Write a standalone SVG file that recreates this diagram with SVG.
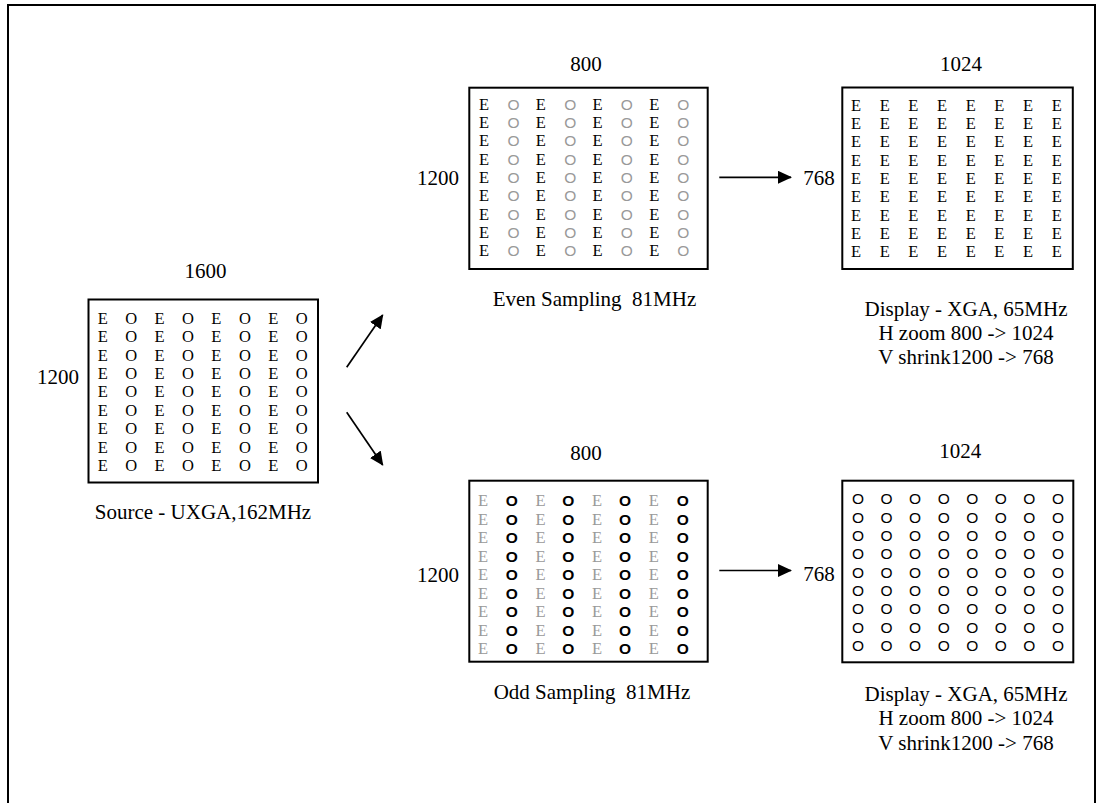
<svg xmlns="http://www.w3.org/2000/svg" width="1105" height="803" viewBox="0 0 1105 803">
<style>
.lbl{font-family:"Liberation Serif","Times New Roman",serif;font-size:21px;fill:#000;text-anchor:middle}
.box{fill:none;stroke:#000;stroke-width:2}
.row{text-anchor:middle}
.E{font-family:"Liberation Serif",serif;font-size:16.5px;fill:#000}
.Eg{font-family:"Liberation Serif",serif;font-size:16.5px;fill:#999}
.Os{font-family:"Liberation Serif",serif;font-size:16.5px;fill:#000}
.Og{font-family:"Liberation Sans",sans-serif;font-size:15.5px;fill:#999}
.Ob{font-family:"Liberation Sans",sans-serif;font-size:15.5px;font-weight:bold;fill:#000}
.On{font-family:"Liberation Sans",sans-serif;font-size:15.5px;fill:#000}
.conn{stroke:#000;stroke-width:1.7;fill:none;marker-end:url(#ah)}
</style>
<defs>
<marker id="ah" viewBox="0 0 14 13" refX="13" refY="6.5" markerWidth="14" markerHeight="13" markerUnits="userSpaceOnUse" orient="auto">
<path d="M0,0 L14,6.5 L0,13 z" fill="#000"/>
</marker>
</defs>
<rect x="8" y="5" width="1087" height="830" fill="none" stroke="#000" stroke-width="2"/>

<g id="source">
<text class="lbl" x="205.5" y="278">1600</text>
<text class="lbl" x="58" y="384">1200</text>
<rect class="box" x="88.5" y="299.5" width="229.5" height="183"/>
<text class="row" y="323.7"><tspan class="E" x="102.7">E</tspan><tspan class="Os" x="131.1">O</tspan><tspan class="E" x="159.6">E</tspan><tspan class="Os" x="188">O</tspan><tspan class="E" x="216.4">E</tspan><tspan class="Os" x="244.9">O</tspan><tspan class="E" x="273.3">E</tspan><tspan class="Os" x="301.7">O</tspan></text>
<text class="row" y="342.1"><tspan class="E" x="102.7">E</tspan><tspan class="Os" x="131.1">O</tspan><tspan class="E" x="159.6">E</tspan><tspan class="Os" x="188">O</tspan><tspan class="E" x="216.4">E</tspan><tspan class="Os" x="244.9">O</tspan><tspan class="E" x="273.3">E</tspan><tspan class="Os" x="301.7">O</tspan></text>
<text class="row" y="360.5"><tspan class="E" x="102.7">E</tspan><tspan class="Os" x="131.1">O</tspan><tspan class="E" x="159.6">E</tspan><tspan class="Os" x="188">O</tspan><tspan class="E" x="216.4">E</tspan><tspan class="Os" x="244.9">O</tspan><tspan class="E" x="273.3">E</tspan><tspan class="Os" x="301.7">O</tspan></text>
<text class="row" y="378.9"><tspan class="E" x="102.7">E</tspan><tspan class="Os" x="131.1">O</tspan><tspan class="E" x="159.6">E</tspan><tspan class="Os" x="188">O</tspan><tspan class="E" x="216.4">E</tspan><tspan class="Os" x="244.9">O</tspan><tspan class="E" x="273.3">E</tspan><tspan class="Os" x="301.7">O</tspan></text>
<text class="row" y="397.3"><tspan class="E" x="102.7">E</tspan><tspan class="Os" x="131.1">O</tspan><tspan class="E" x="159.6">E</tspan><tspan class="Os" x="188">O</tspan><tspan class="E" x="216.4">E</tspan><tspan class="Os" x="244.9">O</tspan><tspan class="E" x="273.3">E</tspan><tspan class="Os" x="301.7">O</tspan></text>
<text class="row" y="415.7"><tspan class="E" x="102.7">E</tspan><tspan class="Os" x="131.1">O</tspan><tspan class="E" x="159.6">E</tspan><tspan class="Os" x="188">O</tspan><tspan class="E" x="216.4">E</tspan><tspan class="Os" x="244.9">O</tspan><tspan class="E" x="273.3">E</tspan><tspan class="Os" x="301.7">O</tspan></text>
<text class="row" y="434.1"><tspan class="E" x="102.7">E</tspan><tspan class="Os" x="131.1">O</tspan><tspan class="E" x="159.6">E</tspan><tspan class="Os" x="188">O</tspan><tspan class="E" x="216.4">E</tspan><tspan class="Os" x="244.9">O</tspan><tspan class="E" x="273.3">E</tspan><tspan class="Os" x="301.7">O</tspan></text>
<text class="row" y="452.5"><tspan class="E" x="102.7">E</tspan><tspan class="Os" x="131.1">O</tspan><tspan class="E" x="159.6">E</tspan><tspan class="Os" x="188">O</tspan><tspan class="E" x="216.4">E</tspan><tspan class="Os" x="244.9">O</tspan><tspan class="E" x="273.3">E</tspan><tspan class="Os" x="301.7">O</tspan></text>
<text class="row" y="470.9"><tspan class="E" x="102.7">E</tspan><tspan class="Os" x="131.1">O</tspan><tspan class="E" x="159.6">E</tspan><tspan class="Os" x="188">O</tspan><tspan class="E" x="216.4">E</tspan><tspan class="Os" x="244.9">O</tspan><tspan class="E" x="273.3">E</tspan><tspan class="Os" x="301.7">O</tspan></text>
<text class="lbl" x="203" y="519">Source - UXGA,162MHz</text>
</g>

<g id="even">
<text class="lbl" x="586" y="70.7">800</text>
<text class="lbl" x="438" y="185">1200</text>
<rect class="box" x="469.3" y="87.7" width="238.4" height="181.3"/>
<text class="row" y="109.5"><tspan class="E" x="484">E</tspan><tspan class="Og" x="513.6">O</tspan><tspan class="E" x="540.8">E</tspan><tspan class="Og" x="570.2">O</tspan><tspan class="E" x="597.6">E</tspan><tspan class="Og" x="626.8">O</tspan><tspan class="E" x="654.4">E</tspan><tspan class="Og" x="683.4">O</tspan></text>
<text class="row" y="127.8"><tspan class="E" x="484">E</tspan><tspan class="Og" x="513.6">O</tspan><tspan class="E" x="540.8">E</tspan><tspan class="Og" x="570.2">O</tspan><tspan class="E" x="597.6">E</tspan><tspan class="Og" x="626.8">O</tspan><tspan class="E" x="654.4">E</tspan><tspan class="Og" x="683.4">O</tspan></text>
<text class="row" y="146.2"><tspan class="E" x="484">E</tspan><tspan class="Og" x="513.6">O</tspan><tspan class="E" x="540.8">E</tspan><tspan class="Og" x="570.2">O</tspan><tspan class="E" x="597.6">E</tspan><tspan class="Og" x="626.8">O</tspan><tspan class="E" x="654.4">E</tspan><tspan class="Og" x="683.4">O</tspan></text>
<text class="row" y="164.5"><tspan class="E" x="484">E</tspan><tspan class="Og" x="513.6">O</tspan><tspan class="E" x="540.8">E</tspan><tspan class="Og" x="570.2">O</tspan><tspan class="E" x="597.6">E</tspan><tspan class="Og" x="626.8">O</tspan><tspan class="E" x="654.4">E</tspan><tspan class="Og" x="683.4">O</tspan></text>
<text class="row" y="182.8"><tspan class="E" x="484">E</tspan><tspan class="Og" x="513.6">O</tspan><tspan class="E" x="540.8">E</tspan><tspan class="Og" x="570.2">O</tspan><tspan class="E" x="597.6">E</tspan><tspan class="Og" x="626.8">O</tspan><tspan class="E" x="654.4">E</tspan><tspan class="Og" x="683.4">O</tspan></text>
<text class="row" y="201.2"><tspan class="E" x="484">E</tspan><tspan class="Og" x="513.6">O</tspan><tspan class="E" x="540.8">E</tspan><tspan class="Og" x="570.2">O</tspan><tspan class="E" x="597.6">E</tspan><tspan class="Og" x="626.8">O</tspan><tspan class="E" x="654.4">E</tspan><tspan class="Og" x="683.4">O</tspan></text>
<text class="row" y="219.5"><tspan class="E" x="484">E</tspan><tspan class="Og" x="513.6">O</tspan><tspan class="E" x="540.8">E</tspan><tspan class="Og" x="570.2">O</tspan><tspan class="E" x="597.6">E</tspan><tspan class="Og" x="626.8">O</tspan><tspan class="E" x="654.4">E</tspan><tspan class="Og" x="683.4">O</tspan></text>
<text class="row" y="237.8"><tspan class="E" x="484">E</tspan><tspan class="Og" x="513.6">O</tspan><tspan class="E" x="540.8">E</tspan><tspan class="Og" x="570.2">O</tspan><tspan class="E" x="597.6">E</tspan><tspan class="Og" x="626.8">O</tspan><tspan class="E" x="654.4">E</tspan><tspan class="Og" x="683.4">O</tspan></text>
<text class="row" y="256.2"><tspan class="E" x="484">E</tspan><tspan class="Og" x="513.6">O</tspan><tspan class="E" x="540.8">E</tspan><tspan class="Og" x="570.2">O</tspan><tspan class="E" x="597.6">E</tspan><tspan class="Og" x="626.8">O</tspan><tspan class="E" x="654.4">E</tspan><tspan class="Og" x="683.4">O</tspan></text>
<text class="lbl" x="594.5" y="306" xml:space="preserve">Even Sampling  81MHz</text>
</g>

<g id="display-even">
<text class="lbl" x="961" y="70.7">1024</text>
<text class="lbl" x="819" y="185">768</text>
<rect class="box" x="842.3" y="87.5" width="230.5" height="181.5"/>
<text class="row E" x="856 884.7 913.3 942 970.7 999.3 1028 1056.7" y="110.5">EEEEEEEE</text>
<text class="row E" x="856 884.7 913.3 942 970.7 999.3 1028 1056.7" y="128.8">EEEEEEEE</text>
<text class="row E" x="856 884.7 913.3 942 970.7 999.3 1028 1056.7" y="147.2">EEEEEEEE</text>
<text class="row E" x="856 884.7 913.3 942 970.7 999.3 1028 1056.7" y="165.5">EEEEEEEE</text>
<text class="row E" x="856 884.7 913.3 942 970.7 999.3 1028 1056.7" y="183.8">EEEEEEEE</text>
<text class="row E" x="856 884.7 913.3 942 970.7 999.3 1028 1056.7" y="202.2">EEEEEEEE</text>
<text class="row E" x="856 884.7 913.3 942 970.7 999.3 1028 1056.7" y="220.5">EEEEEEEE</text>
<text class="row E" x="856 884.7 913.3 942 970.7 999.3 1028 1056.7" y="238.8">EEEEEEEE</text>
<text class="row E" x="856 884.7 913.3 942 970.7 999.3 1028 1056.7" y="257.2">EEEEEEEE</text>
<text class="lbl" x="966" y="315.5">Display - XGA, 65MHz</text>
<text class="lbl" x="966" y="339.5">H zoom 800 -&gt; 1024</text>
<text class="lbl" x="966" y="363.5">V shrink1200 -&gt; 768</text>
</g>

<g id="odd">
<text class="lbl" x="586" y="460">800</text>
<text class="lbl" x="438" y="582">1200</text>
<rect class="box" x="469.3" y="480.7" width="238.4" height="181"/>
<text class="row" y="506"><tspan class="Eg" x="483">E</tspan><tspan class="Ob" x="511.7">O</tspan><tspan class="Eg" x="540.5">E</tspan><tspan class="Ob" x="568.3">O</tspan><tspan class="Eg" x="597">E</tspan><tspan class="Ob" x="625">O</tspan><tspan class="Eg" x="653.8">E</tspan><tspan class="Ob" x="682.7">O</tspan></text>
<text class="row" y="524.5"><tspan class="Eg" x="483">E</tspan><tspan class="Ob" x="511.7">O</tspan><tspan class="Eg" x="540.5">E</tspan><tspan class="Ob" x="568.3">O</tspan><tspan class="Eg" x="597">E</tspan><tspan class="Ob" x="625">O</tspan><tspan class="Eg" x="653.8">E</tspan><tspan class="Ob" x="682.7">O</tspan></text>
<text class="row" y="543.1"><tspan class="Eg" x="483">E</tspan><tspan class="Ob" x="511.7">O</tspan><tspan class="Eg" x="540.5">E</tspan><tspan class="Ob" x="568.3">O</tspan><tspan class="Eg" x="597">E</tspan><tspan class="Ob" x="625">O</tspan><tspan class="Eg" x="653.8">E</tspan><tspan class="Ob" x="682.7">O</tspan></text>
<text class="row" y="561.6"><tspan class="Eg" x="483">E</tspan><tspan class="Ob" x="511.7">O</tspan><tspan class="Eg" x="540.5">E</tspan><tspan class="Ob" x="568.3">O</tspan><tspan class="Eg" x="597">E</tspan><tspan class="Ob" x="625">O</tspan><tspan class="Eg" x="653.8">E</tspan><tspan class="Ob" x="682.7">O</tspan></text>
<text class="row" y="580.2"><tspan class="Eg" x="483">E</tspan><tspan class="Ob" x="511.7">O</tspan><tspan class="Eg" x="540.5">E</tspan><tspan class="Ob" x="568.3">O</tspan><tspan class="Eg" x="597">E</tspan><tspan class="Ob" x="625">O</tspan><tspan class="Eg" x="653.8">E</tspan><tspan class="Ob" x="682.7">O</tspan></text>
<text class="row" y="598.7"><tspan class="Eg" x="483">E</tspan><tspan class="Ob" x="511.7">O</tspan><tspan class="Eg" x="540.5">E</tspan><tspan class="Ob" x="568.3">O</tspan><tspan class="Eg" x="597">E</tspan><tspan class="Ob" x="625">O</tspan><tspan class="Eg" x="653.8">E</tspan><tspan class="Ob" x="682.7">O</tspan></text>
<text class="row" y="617.2"><tspan class="Eg" x="483">E</tspan><tspan class="Ob" x="511.7">O</tspan><tspan class="Eg" x="540.5">E</tspan><tspan class="Ob" x="568.3">O</tspan><tspan class="Eg" x="597">E</tspan><tspan class="Ob" x="625">O</tspan><tspan class="Eg" x="653.8">E</tspan><tspan class="Ob" x="682.7">O</tspan></text>
<text class="row" y="635.8"><tspan class="Eg" x="483">E</tspan><tspan class="Ob" x="511.7">O</tspan><tspan class="Eg" x="540.5">E</tspan><tspan class="Ob" x="568.3">O</tspan><tspan class="Eg" x="597">E</tspan><tspan class="Ob" x="625">O</tspan><tspan class="Eg" x="653.8">E</tspan><tspan class="Ob" x="682.7">O</tspan></text>
<text class="row" y="654.3"><tspan class="Eg" x="483">E</tspan><tspan class="Ob" x="511.7">O</tspan><tspan class="Eg" x="540.5">E</tspan><tspan class="Ob" x="568.3">O</tspan><tspan class="Eg" x="597">E</tspan><tspan class="Ob" x="625">O</tspan><tspan class="Eg" x="653.8">E</tspan><tspan class="Ob" x="682.7">O</tspan></text>
<text class="lbl" x="592" y="699" xml:space="preserve">Odd Sampling  81MHz</text>
</g>

<g id="display-odd">
<text class="lbl" x="960.3" y="458">1024</text>
<text class="lbl" x="819" y="580.5">768</text>
<rect class="box" x="842.3" y="480.7" width="231" height="181.6"/>
<text class="row On" x="858 886.6 915.1 943.7 972.3 1000.9 1029.4 1058" y="504.3">OOOOOOOO</text>
<text class="row On" x="858 886.6 915.1 943.7 972.3 1000.9 1029.4 1058" y="522.7">OOOOOOOO</text>
<text class="row On" x="858 886.6 915.1 943.7 972.3 1000.9 1029.4 1058" y="541">OOOOOOOO</text>
<text class="row On" x="858 886.6 915.1 943.7 972.3 1000.9 1029.4 1058" y="559.3">OOOOOOOO</text>
<text class="row On" x="858 886.6 915.1 943.7 972.3 1000.9 1029.4 1058" y="577.7">OOOOOOOO</text>
<text class="row On" x="858 886.6 915.1 943.7 972.3 1000.9 1029.4 1058" y="596">OOOOOOOO</text>
<text class="row On" x="858 886.6 915.1 943.7 972.3 1000.9 1029.4 1058" y="614.3">OOOOOOOO</text>
<text class="row On" x="858 886.6 915.1 943.7 972.3 1000.9 1029.4 1058" y="632.7">OOOOOOOO</text>
<text class="row On" x="858 886.6 915.1 943.7 972.3 1000.9 1029.4 1058" y="651">OOOOOOOO</text>
<text class="lbl" x="966" y="700.5">Display - XGA, 65MHz</text>
<text class="lbl" x="966" y="725">H zoom 800 -&gt; 1024</text>
<text class="lbl" x="966" y="749.5">V shrink1200 -&gt; 768</text>
</g>

<g id="connectors">
<line class="conn" x1="346.7" y1="367.3" x2="382.7" y2="315"/>
<line class="conn" x1="346.7" y1="412.3" x2="382.7" y2="465"/>
<line class="conn" x1="719.3" y1="177.3" x2="791" y2="177.3"/>
<line class="conn" x1="719.3" y1="570.5" x2="791" y2="570.5"/>
</g>
</svg>
